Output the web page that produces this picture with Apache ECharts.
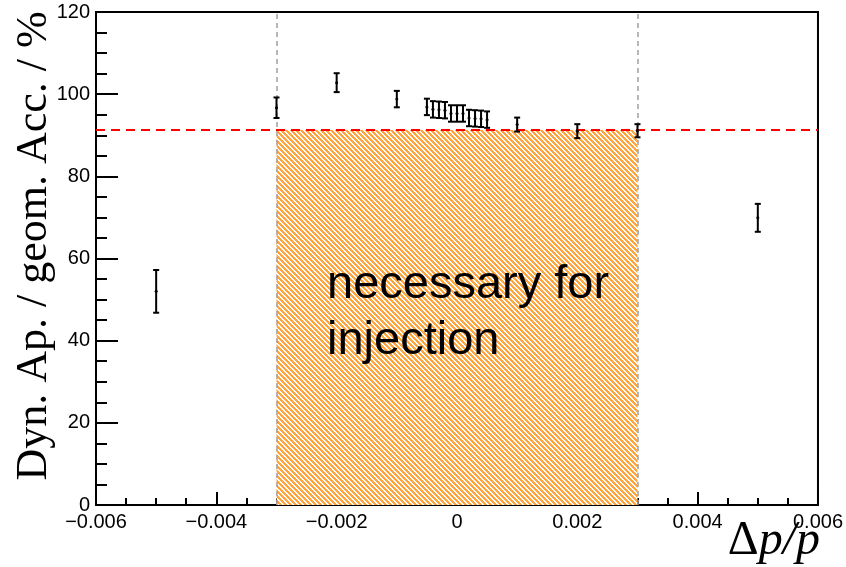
<!DOCTYPE html>
<html>
<head>
<meta charset="utf-8">
<script src="https://cdn.jsdelivr.net/npm/echarts@6/dist/echarts.min.js"></script>
<style>
  html, body { margin: 0; padding: 0; background: #fff; }
  #chart { width: 846px; height: 567px; }
</style>
</head>
<body>
<div id="chart"></div>
<script>
// momentum offsets and dynamic aperture ratio
var dpp = [-0.005, -0.003, -0.002, -0.001, -0.0005, -0.0004, -0.0003, -0.0002, -0.0001, 0,
           0.0001, 0.0002, 0.0003, 0.0004, 0.0005, 0.001, 0.002, 0.003, 0.005]
var ratio = [52.0, 96.7, 102.8, 98.8, 96.9, 96.3, 96.2, 96.1, 95.3, 95.3,
             95.3, 94.2, 94.1, 94.0, 93.8, 92.6, 91.0, 91.1, 69.9]
var ratioErr = [5.2, 2.5, 2.3, 2.0, 2.0, 2.0, 2.0, 2.0, 2.0, 2.0,
                2.0, 2.0, 2.0, 2.0, 2.0, 1.7, 1.7, 1.6, 3.4]
// injection window and reference level
var injWindow = [-0.003, 0.003]
var refLevel = 91.3

// orange hatch pattern
var tile = document.createElement('canvas')
tile.width = 5
tile.height = 5
var tctx = tile.getContext('2d')
tctx.fillStyle = '#ffffff'
tctx.fillRect(0, 0, 5, 5)
tctx.fillStyle = '#ffa640'
for (var px = 0; px < 5; px++) {
  for (var py = 0; py < 5; py++) {
    if (((px - py) % 5 + 5) % 5 < 3) tctx.fillRect(px, py, 1, 1)
  }
}

var chart = echarts.init(document.getElementById('chart'))

function errBar (params, api) {
  var x = api.value(0)
  var y = api.value(1)
  var e = api.value(2)
  var top = api.coord([x, y + e])
  var bot = api.coord([x, y - e])
  var mid = api.coord([x, y])
  var st = { stroke: '#000', lineWidth: 2 }
  return {
    type: 'group',
    children: [
      { type: 'line', shape: { x1: top[0], y1: top[1], x2: bot[0], y2: bot[1] }, style: st },
      { type: 'line', shape: { x1: top[0] - 3, y1: top[1], x2: top[0] + 3, y2: top[1] }, style: st },
      { type: 'line', shape: { x1: bot[0] - 3, y1: bot[1], x2: bot[0] + 3, y2: bot[1] }, style: st },
      { type: 'circle', shape: { cx: mid[0], cy: mid[1], r: 1.5 }, style: { fill: '#000' } }
    ]
  }
}

function hatch (params, api) {
  var p0 = api.coord([api.value(0), 0])
  var p1 = api.coord([api.value(1), api.value(2)])
  return {
    type: 'rect',
    shape: { x: p0[0], y: p1[1], width: p1[0] - p0[0], height: p0[1] - p1[1] },
    style: { fill: { image: tile, repeat: 'repeat' } }
  }
}

var labelFont = { fontFamily: 'Liberation Sans', fontSize: 20, color: '#000' }

var option = {
  animation: false,
  backgroundColor: '#fff',
  grid: { left: 96, right: 24, top: 12, bottom: 62, show: true, borderColor: '#000', borderWidth: 2, backgroundColor: 'transparent' },
  xAxis: {
    type: 'value',
    min: -0.006,
    max: 0.006,
    interval: 0.002,
    axisLine: { onZero: false, lineStyle: { color: '#000', width: 2 } },
    axisTick: { inside: true, length: 13, lineStyle: { color: '#000', width: 2 } },
    minorTick: { show: true, splitNumber: 4, length: 7, lineStyle: { color: '#000', width: 2 } },
    splitLine: { show: false },
    axisLabel: Object.assign({
      margin: 7,
      showMaxLabel: true,
      showMinLabel: true,
      formatter: function (v) {
        if (Math.abs(v) < 1e-9) return '0'
        return (v < 0 ? '\u2212' : '') + Math.abs(v).toFixed(3)
      }
    }, labelFont)
  },
  yAxis: {
    type: 'value',
    min: 0,
    max: 120,
    interval: 20,
    axisLine: { onZero: false, lineStyle: { color: '#000', width: 2 } },
    axisTick: { inside: true, length: 22, lineStyle: { color: '#000', width: 2 } },
    minorTick: { show: true, splitNumber: 4, length: 11, lineStyle: { color: '#000', width: 2 } },
    splitLine: { show: false },
    axisLabel: Object.assign({ margin: 6 }, labelFont)
  },
  series: [
    {
      type: 'custom',
      renderItem: hatch,
      data: [[injWindow[0], injWindow[1], refLevel]],
      z: 1,
      silent: true
    },
    {
      // guide lines: window edges and reference level
      type: 'line',
      data: [],
      z: 2,
      silent: true,
      markLine: {
        silent: true,
        precision: 6,
        symbol: 'none',
        label: { show: false },
        data: [
          { xAxis: injWindow[0], lineStyle: { color: '#a0a0a0', width: 1.5, type: [5, 4] } },
          { xAxis: injWindow[1], lineStyle: { color: '#a0a0a0', width: 1.5, type: [5, 4] } },
          { yAxis: refLevel, lineStyle: { color: '#ff0000', width: 2, type: [9, 6] } }
        ]
      }
    },
    {
      type: 'custom',
      renderItem: errBar,
      data: dpp.map(function (x, i) { return [x, ratio[i], ratioErr[i]] }),
      z: 5
    }
  ],
  graphic: [
    {
      type: 'text',
      left: 327, top: 262, z: 100,
      style: { text: 'necessary for', font: '47px "Liberation Sans"', fill: '#000' }
    },
    {
      type: 'text',
      left: 327, top: 318, z: 100,
      style: { text: 'injection', font: '47px "Liberation Sans"', fill: '#000' }
    },
    {
      type: 'text',
      x: 34, y: 246, z: 100,
      rotation: Math.PI / 2,
      style: { text: 'Dyn. Ap. / geom. Acc. / %', font: '44px "Liberation Serif"', fill: '#000', align: 'center', verticalAlign: 'middle' }
    },
    {
      type: 'text',
      right: 26, top: 517, z: 100,
      style: {
        text: '{n|\u0394}{i|p/p}',
        rich: {
          n: { font: '48px "Liberation Serif"', fill: '#000' },
          i: { font: 'italic 48px "Liberation Serif"', fill: '#000' }
        }
      }
    }
  ]
}
chart.setOption(option)
</script>
</body>
</html>
